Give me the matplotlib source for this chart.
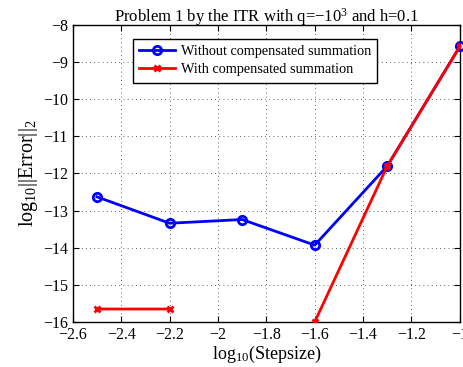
import numpy as np
import matplotlib
matplotlib.use("Agg")
import matplotlib.pyplot as plt

plt.rcParams['font.family'] = ['Liberation Serif', 'DejaVu Serif']
plt.rcParams['mathtext.fontset'] = 'custom'
plt.rcParams['mathtext.rm'] = 'Liberation Serif'
plt.rcParams['mathtext.it'] = 'Liberation Serif:italic'
plt.rcParams['axes.unicode_minus'] = True

log_step = [-2.5, -2.2, -1.9, -1.6, -1.3, -1.0]
err_plain = [-12.63, -13.34, -13.24, -13.93, -11.8, -8.58]
err_comp = [-15.65, -15.65, np.nan, -16.0, -11.8, -8.58]

xticks = [-2.6, -2.4, -2.2, -2.0, -1.8, -1.6, -1.4, -1.2, -1.0]
xticklabels = ['−2.6', '−2.4', '−2.2', '−2', '−1.8', '−1.6', '−1.4', '−1.2', '−1']
yticks = [-16, -15, -14, -13, -12, -11, -10, -9, -8]
yticklabels = ['−16', '−15', '−14', '−13', '−12', '−11', '−10', '−9', '−8']

fig = plt.figure(figsize=(4.64, 3.67), dpi=100)
ax = fig.add_axes([0.157, 0.1226, 0.834, 0.8094])

ax.plot(log_step, err_plain, '-o', color='#0000ff', lw=2, ms=6, mfc='none', mew=2,
        label='Without compensated summation', clip_on=False, zorder=3)
ax.plot(log_step, err_comp, '-x', color='#ff0000', lw=2, ms=5, mew=2,
        label='With compensated summation', clip_on=True, zorder=4)

ax.set_xlim(-2.6, -1.0)
ax.set_ylim(-16, -8)
ax.set_xticks(xticks)
ax.set_xticklabels(xticklabels)
ax.set_yticks(yticks)
ax.set_yticklabels(yticklabels)
ax.tick_params(direction='in', top=True, right=True, labelsize=11.5, length=4, width=0.8)
ax.grid(True, linestyle=(0, (1, 4)), color='#333333', lw=0.6)
for s in ax.spines.values():
    s.set_linewidth(1.0)

ax.set_title(r'Problem 1 by the ITR with q=$-10^3$ and h=0.1', fontsize=12, pad=2)
ax.set_xlabel(r'log$_{10}$(Stepsize)', fontsize=13, labelpad=1)
ax.set_ylabel(r'log$_{10}$||Error||$_2$', fontsize=14.5, labelpad=2)

leg = ax.legend(loc='upper left', bbox_to_anchor=(0.155, 0.953), borderaxespad=0,
                fontsize=10.3,
                frameon=True, fancybox=False, edgecolor='black', framealpha=1,
                handlelength=2.5, borderpad=0.45, labelspacing=0.35, handletextpad=0.4)
leg.get_frame().set_linewidth(1.0)

fig.savefig('out.png', dpi=100)
